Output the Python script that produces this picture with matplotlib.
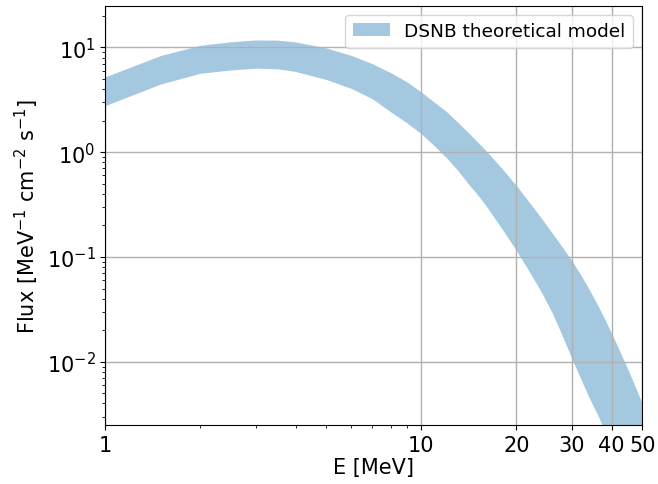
import numpy as np
import matplotlib
matplotlib.use("Agg")
import matplotlib.pyplot as plt
from matplotlib.ticker import FixedLocator, ScalarFormatter, NullFormatter

# energies [MeV] and the band edges
energy = [1, 1.5, 2, 2.5, 3, 3.5, 4, 5, 6, 7, 8, 9, 10, 11, 12, 13, 14, 15, 16,
          18, 20, 22, 24, 26, 28, 30, 32, 34, 36, 38, 40, 42, 44, 46, 48, 50]
flux_upper = [5.25, 8.4, 10.5, 11.35, 11.8, 11.75, 11.3, 9.9, 8.4, 7.0, 5.75, 4.7,
              3.76, 3.0, 2.45, 1.95, 1.57, 1.27, 1.04, 0.70, 0.48, 0.331, 0.234,
              0.168, 0.123, 0.0916, 0.067, 0.0489, 0.0355, 0.0258, 0.0187, 0.0136,
              0.00993, 0.0073, 0.00538, 0.00399]
flux_lower = [2.79, 4.49, 5.68, 6.1, 6.34, 6.26, 5.9, 4.95, 4.07, 3.24, 2.43, 1.91,
              1.50, 1.15, 0.89, 0.68, 0.51, 0.40, 0.31, 0.186, 0.115, 0.072, 0.046,
              0.029, 0.0174, 0.0106, 0.0068, 0.0045, 0.0032, 0.0022, 0.00155,
              0.00112, 0.00081, 0.00059, 0.00043, 0.00032]
xticks = [1, 10, 20, 30, 40, 50]

plt.rcParams['font.size'] = 15

fig = plt.figure(figsize=(6.58, 4.85), dpi=100)
ax = fig.add_subplot(111)
fig.subplots_adjust(left=0.16, right=0.976, top=0.986, bottom=0.122)

ax.fill_between(energy, flux_lower, flux_upper, color='C0', alpha=0.4,
                linewidth=0, label='DSNB theoretical model')

ax.set_xscale('log')
ax.set_yscale('log')
ax.set_xlim(1, 50)
ax.set_ylim(2.5e-3, 25)

##major x ticks at the labelled energies
ax.xaxis.set_major_locator(FixedLocator(xticks))
ax.xaxis.set_major_formatter(ScalarFormatter())
ax.xaxis.set_minor_locator(FixedLocator([2, 3, 4, 5, 6, 7, 8, 9]))
ax.xaxis.set_minor_formatter(NullFormatter())

ax.grid(True, which='major', color='#b0b0b0', linewidth=1)
ax.set_xlabel('E [MeV]', labelpad=2)
ax.set_ylabel('Flux [MeV$^{-1}$ cm$^{-2}$ s$^{-1}$]')
ax.legend(loc='upper right', fontsize=13.3)

fig.savefig('out.png', dpi=100)
